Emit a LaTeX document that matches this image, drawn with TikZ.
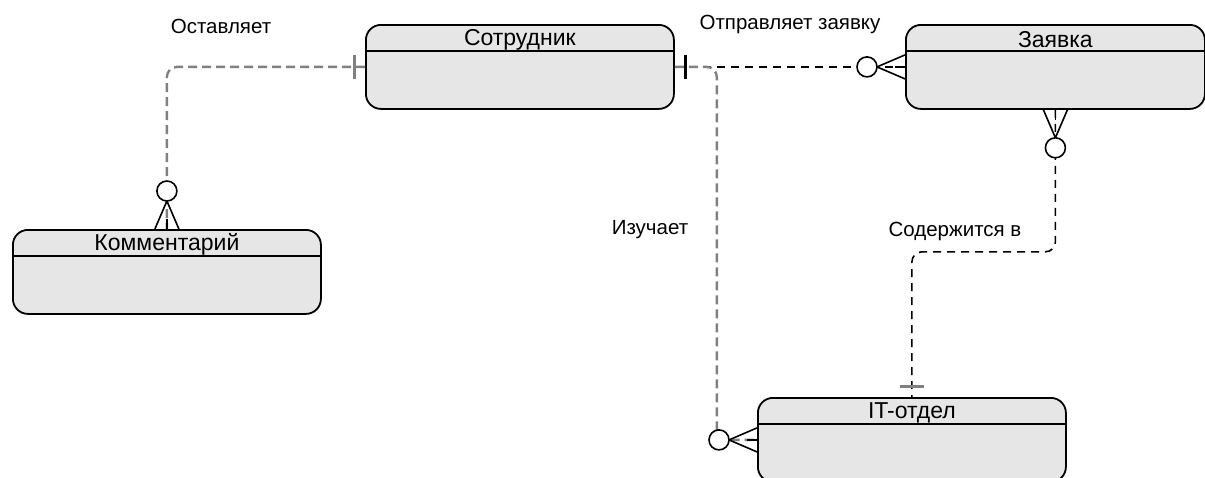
\documentclass[tikz,border=0pt]{standalone}
\usepackage{fontspec}
\setmainfont{Liberation Sans}
\usetikzlibrary{calc}
\definecolor{boxfill}{RGB}{230,230,230}
\definecolor{linegrey}{RGB}{128,128,128}
\begin{document}
\begin{tikzpicture}[x=1pt,y=-1pt,
  entity/.style={draw=black, line width=1.8pt, fill=boxfill,
    rounded corners=15pt, minimum width=308pt, minimum height=84pt, anchor=north west, inner sep=0pt},
  title/.style={font=\fontsize{23}{25}\selectfont, inner sep=0pt},
  lbl/.style={font=\fontsize{20.5}{23}\selectfont, inner sep=0pt},
  greyline/.style={draw=linegrey, line width=2.4pt, dash pattern=on 9pt off 5pt, rounded corners=10pt},
  blackline/.style={draw=black, line width=1.6pt, dash pattern=on 8pt off 6pt, rounded corners=10pt},
  markline/.style={draw=black, line width=1.6pt},
  crowfoot/.pic={
    \draw[markline] (0,-12) -- (28,0) -- (0,12);
    \draw[markline] (0,0) -- (10,0);
    \draw[markline, fill=white] (38,0) circle (10pt);
  },
  onebar/.pic={
    \draw[line width=3pt, draw=#1] (11,-12) -- (11,12);
  },
  onebar/.default=black
]
\useasboundingbox (0,0) rectangle (1205,477);
\clip (0,0) rectangle (1205,477);

% entities
\node[entity] (emp) at (365,24) {};
\node[entity, minimum width=299pt] (req) at (905,24) {};
\node[entity] (com) at (12,229) {};
\node[entity] (it) at (757,397) {};

\foreach \e in {emp,req,com,it}{
  \draw[line width=1.8pt] ([yshift=-27pt]\e.north west) -- ([yshift=-27pt]\e.north east);
}

\node[title] (empT) at ([yshift=-15.5pt]emp.north) {Сотрудник};
\node[title] (reqT) at ([yshift=-15.5pt]req.north) {Заявка};
\node[title] (comT) at ([yshift=-15.5pt]com.north) {Комментарий};
\node[title] (itT) at ([yshift=-15.5pt]it.north) {IT-отдел};

% relationships
\draw[greyline] (emp.west) -| (com.north);
\draw[blackline] (emp.east) -- (req.west);
\draw[greyline] (emp.east) -- ++(42,0) |- (it.west);
\draw[blackline] (req.south) -- ++(0,142) -| (it.north);

% cardinality marks
\pic[rotate=180] at (emp.west) {onebar=linegrey};
\pic at (emp.east) {onebar};
\pic[rotate=90] at (it.north) {onebar=linegrey};
\pic[rotate=90] at (com.north) {crowfoot};
\pic[rotate=180] at (req.west) {crowfoot};
\pic[rotate=-90] at (req.south) {crowfoot};
\pic[rotate=180] at (it.west) {crowfoot};

% labels
\node[lbl] (l1) at (221,26) {Оставляет};
\node[lbl] (l2) at (790,24) {Отправляет заявку};
\node[lbl] (l3) at (650,230) {Изучает};
\node[lbl] (l4) at (955,231) {Содержится в};
\end{tikzpicture}
\end{document}
